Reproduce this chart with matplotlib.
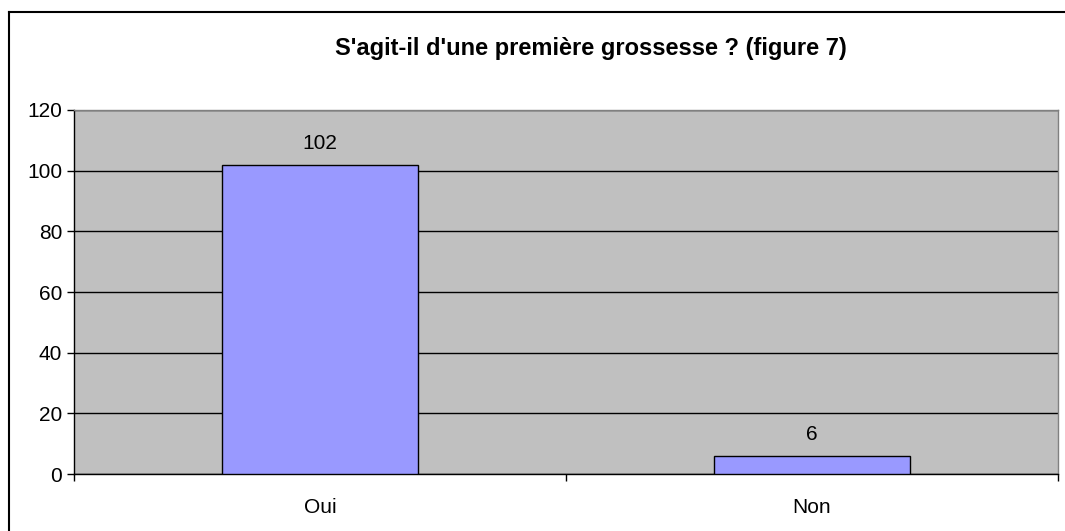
import matplotlib
matplotlib.use("Agg")
import matplotlib.pyplot as plt
from matplotlib.lines import Line2D

categories = ["Oui", "Non"]
values = [102, 6]
yticks = [0, 20, 40, 60, 80, 100, 120]
title = "S'agit-il d'une première grossesse ? (figure 7)"

plt.rcParams['font.family'] = ['Liberation Sans', 'DejaVu Sans']

W, H = 1065, 531
fig = plt.figure(figsize=(W / 100, H / 100), dpi=100)
ax = fig.add_axes([74 / W, 1 - 474 / H, (1058 - 74) / W, (474 - 110) / H])
ax.set_facecolor('#C0C0C0')

x = list(range(len(categories)))
bars = ax.bar(x, values, width=0.4, color='#9999FF', edgecolor='black', linewidth=1.0, zorder=3)
for xi, v in zip(x, values):
    ax.annotate(str(v), (xi, v), xytext=(0, 15), textcoords='offset points',
                ha='center', va='center', fontsize=15)

ax.set_xlim(-0.5, len(categories) - 0.5)
ax.set_ylim(0, 120)
ax.set_yticks(yticks)
ax.set_yticklabels([str(t) for t in yticks], fontsize=15)
ax.yaxis.grid(True, color='black', linewidth=1.0, zorder=1)
ax.set_axisbelow(True)
ax.tick_params(axis='y', direction='out', length=5, width=1, pad=3.5, color='black')

ax.set_xticks(x)
ax.set_xticklabels(categories, fontsize=15)
ax.tick_params(axis='x', which='major', length=0, pad=17)
ax.set_xticks([i - 0.5 for i in range(len(categories) + 1)], minor=True)
ax.tick_params(axis='x', which='minor', direction='out', length=5, width=1, color='black')

for s in ['top', 'right']:
    ax.spines[s].set_color('#808080')
    ax.spines[s].set_linewidth(1.0)
for s in ['left', 'bottom']:
    ax.spines[s].set_color('black')
    ax.spines[s].set_linewidth(1.0)

fig.text(591 / W, 1 - 48 / H, title, ha='center', va='center', fontsize=17, fontweight='bold')

# outer frame (left and top edges)
fig.add_artist(Line2D([8.5 / W, 8.5 / W], [0, 1 - 11.5 / H], transform=fig.transFigure, color='black', linewidth=1.5))
fig.add_artist(Line2D([8.5 / W, 1], [1 - 11.5 / H, 1 - 11.5 / H], transform=fig.transFigure, color='black', linewidth=1.5))

fig.savefig('out.png', dpi=100)
